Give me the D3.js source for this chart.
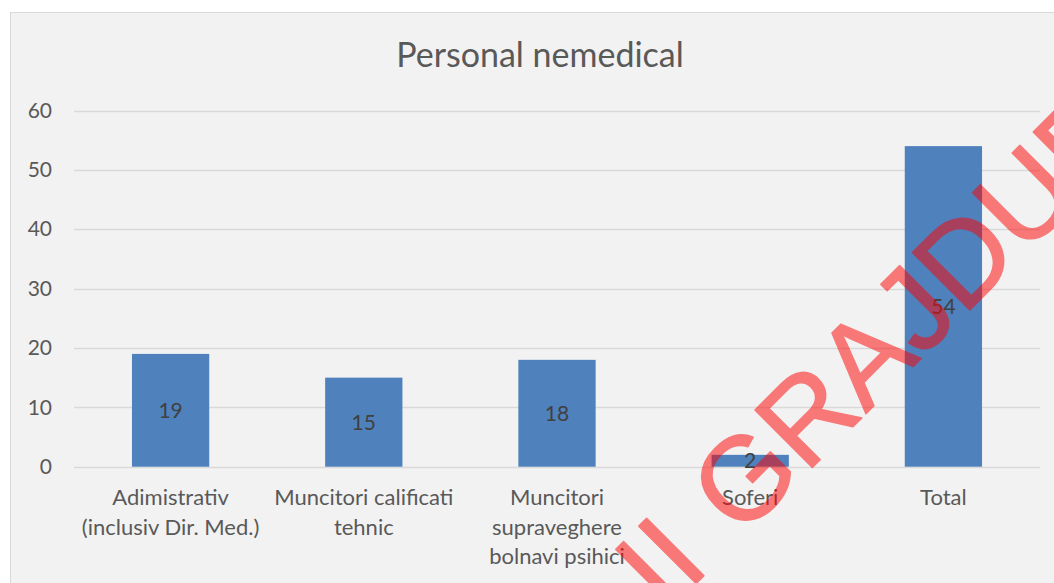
<!DOCTYPE html>
<html>
<head>
<meta charset="utf-8">
<script src="https://cdn.jsdelivr.net/npm/d3@7"></script>
<style>
  body { margin: 0; background: #fff; }
  svg { display: block; }
</style>
</head>
<body>
<svg></svg>
<script>
// chart data
const title = 'Personal nemedical';
const categories = ['Adimistrativ', 'Muncitori calificati', 'Muncitori supraveghere', 'Soferi', 'Total'];
const categoryLines = [
    ['Adimistrativ', '(inclusiv Dir. Med.)'],
    ['Muncitori calificati', 'tehnic'],
    ['Muncitori', 'supraveghere', 'bolnavi psihici'],
    ['Soferi'],
    ['Total']
];
const values = [19, 15, 18, 2, 54];
const yTicks = [0, 10, 20, 30, 40, 50, 60];
const watermark = 'II GRAJDURI';

function createElements() {
    const width = 1054;
    const height = 583;
    const font = 'Lato, "Open Sans", sans-serif';

    const svg = d3.select('svg')
        .attr('width', width)
        .attr('height', height);

    // chart area
    svg.append('rect')
        .attr('x', 10.5)
        .attr('y', 12.5)
        .attr('width', width + 20)
        .attr('height', height + 20)
        .attr('fill', '#f2f2f2')
        .attr('stroke', '#d9d9d9')
        .attr('stroke-width', 1);

    const x = d3.scaleBand()
        .domain(categories)
        .range([74, 1040])
        .paddingInner(0.6)
        .paddingOuter(0.3);

    const y = d3.scaleLinear()
        .domain([0, 60])
        .range([466.7, 110.5]);

    // gridlines
    svg.append('g')
        .selectAll('line')
        .data(yTicks)
        .join('line')
        .attr('x1', 74)
        .attr('x2', 1040)
        .attr('y1', d => Math.round(y(d)) + 0.5)
        .attr('y2', d => Math.round(y(d)) + 0.5)
        .attr('stroke', '#d9d9d9')
        .attr('stroke-width', 1.3);

    // y axis labels
    const yAxis = svg.append('g')
        .attr('transform', 'translate(52,0)')
        .call(d3.axisLeft(y).tickValues(yTicks).tickSize(0).tickPadding(0));
    yAxis.select('.domain').remove();
    yAxis.selectAll('text')
        .attr('fill', '#595959')
        .style('font-family', font)
        .style('font-size', '21px');

    // bars
    svg.append('g')
        .selectAll('rect')
        .data(values)
        .join('rect')
        .attr('x', (d, i) => x(categories[i]))
        .attr('y', d => y(d))
        .attr('width', x.bandwidth())
        .attr('height', d => y(0) - y(d))
        .attr('fill', '#4f81bd');

    // data labels
    svg.append('g')
        .selectAll('text')
        .data(values)
        .join('text')
        .attr('x', (d, i) => x(categories[i]) + x.bandwidth() / 2)
        .attr('y', d => (y(d) + y(0)) / 2)
        .attr('dy', '0.36em')
        .attr('text-anchor', 'middle')
        .attr('fill', '#404040')
        .style('font-family', font)
        .style('font-size', '21px')
        .text(d => d);

    // category labels
    const cat = svg.append('g')
        .selectAll('text')
        .data(categoryLines)
        .join('text')
        .attr('text-anchor', 'middle')
        .attr('fill', '#595959')
        .style('font-family', font)
        .style('font-size', '22px');
    cat.selectAll('tspan')
        .data((d, i) => d.map(line => ({ line, i })))
        .join('tspan')
        .attr('x', d => x(categories[d.i]) + x.bandwidth() / 2)
        .attr('y', (d, j) => 505 + j * 29.5)
        .text(d => d.line);

    // title
    svg.append('text')
        .attr('x', 540)
        .attr('y', 67)
        .attr('text-anchor', 'middle')
        .attr('fill', '#595959')
        .style('font-family', font)
        .style('font-size', '34px')
        .text(title);

    // watermark
    svg.append('g')
        .attr('opacity', 0.5)
        .append('text')
        .attr('transform', 'rotate(-45)')
        .attr('x', 36)
        .attr('y', 905)
        .attr('fill', 'red')
        .attr('stroke', 'red')
        .attr('stroke-width', 1.5)
        .attr('stroke-linejoin', 'round')
        .attr('word-spacing', 8)
        .style('font-family', '"Liberation Sans", Arial, sans-serif')
        .style('font-size', '118px')
        .text(watermark);
}

createElements();
</script>
</body>
</html>
